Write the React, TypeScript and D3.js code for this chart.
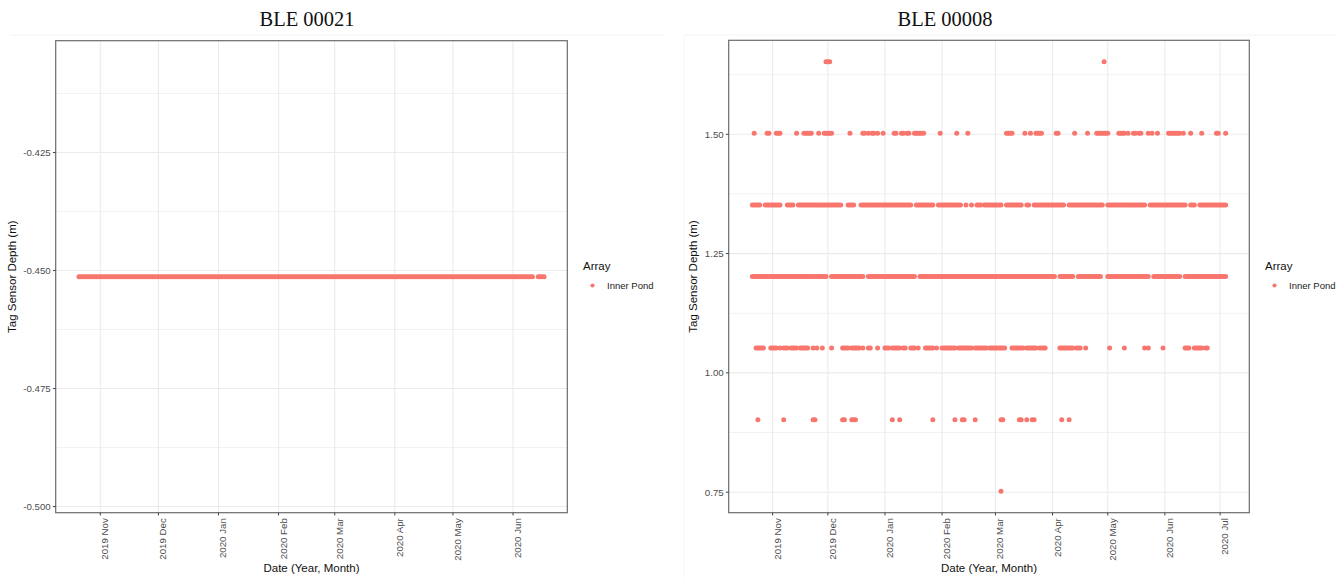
import * as d3 from "d3";

// day numbers count from 2019-10-01 (day 0)
const dayZero = Date.UTC(2019, 9, 1);
const dayToDate = (d: number) => new Date(dayZero + d * 864e5);

const pointColor = "#F8766D";
const sans = "'Liberation Sans', Arial, sans-serif";
const serif = "'Liberation Serif', 'Times New Roman', serif";

// ---- BLE 00021 ----
const tag21Depth = -0.4513;
const tag21Days = [
  20, 21, 22, 23, 24, 25, 26, 27, 28, 29, 30, 31, 32, 33, 34, 35, 36, 37, 38, 39,
  40, 41, 42, 43, 44, 45, 46, 47, 48, 49, 50, 51, 52, 53, 54, 55, 56, 57, 58, 59,
  60, 61, 62, 63, 64, 65, 66, 67, 68, 69, 70, 71, 72, 73, 74, 75, 76, 77, 78, 79,
  80, 81, 82, 83, 84, 85, 86, 87, 88, 89, 90, 91, 92, 93, 94, 95, 96, 97, 98, 99,
  100, 101, 102, 103, 104, 105, 106, 107, 108, 109, 110, 111, 112, 113, 114, 115, 116, 117, 118, 119,
  120, 121, 122, 123, 124, 125, 126, 127, 128, 129, 130, 131, 132, 133, 134, 135, 136, 137, 138, 139,
  140, 141, 142, 143, 144, 145, 146, 147, 148, 149, 150, 151, 152, 153, 154, 155, 156, 157, 158, 159,
  160, 161, 162, 163, 164, 165, 166, 167, 168, 169, 170, 171, 172, 173, 174, 175, 176, 177, 178, 179,
  180, 181, 182, 183, 184, 185, 186, 187, 188, 189, 190, 191, 192, 193, 194, 195, 196, 197, 198, 199,
  200, 201, 202, 203, 204, 205, 206, 207, 208, 209, 210, 211, 212, 213, 214, 215, 216, 217, 218, 219,
  220, 221, 222, 223, 224, 225, 226, 227, 228, 229, 230, 231, 232, 233, 234, 235, 236, 237, 238, 239,
  240, 241, 242, 243, 244, 245, 246, 247, 248, 249, 250, 251, 252, 253, 254,
  257, 258, 259, 260,
];
const tag21YTicks = [-0.5, -0.475, -0.45, -0.425];

// ---- BLE 00008 ----
const tag08Days075 = [155];
const tag08Days090 = [
  23, 37, 53, 54, 69, 70, 74, 75, 76, 96, 100, 118, 130, 134, 135, 141, 155, 156,
  165, 166, 169, 172, 173, 188, 192,
];
const tag08Days105 = [
  22, 23, 24, 25, 26, 30, 31, 32, 33, 35, 37, 38, 39, 41, 42, 43, 44, 46, 47, 48, 49, 50,
  53, 55, 58, 63, 69, 70, 71, 72, 74, 75, 76, 77, 78, 80, 83, 84, 88, 92, 93, 94,
  96, 97, 98, 99, 100, 102, 103, 106, 107, 108, 110, 114, 115, 116, 117, 118, 120,
  123, 124, 125, 126, 127, 128, 129, 130, 132, 133, 134, 135, 136, 137, 138, 139,
  141, 142, 143, 144, 145, 146, 147, 149, 150, 151, 152, 153, 154, 155, 156, 157,
  161, 162, 163, 164, 165, 166, 167, 169, 170, 171, 172, 173, 174, 176, 177, 178, 179,
  187, 188, 189, 190, 191, 192, 193, 194, 196, 197, 198, 201, 214, 222, 233, 235, 243,
  255, 256, 257, 260, 261, 262, 263, 264, 266, 267,
];
const tag08Days120 = [
  20, 21, 22, 23, 24, 25, 26, 27, 28, 29, 30, 31, 32, 33, 34, 35, 36, 37, 38, 39,
  40, 41, 42, 43, 44, 45, 46, 47, 48, 49, 50, 51, 52, 53, 54, 55, 56, 57, 58, 59, 60,
  63, 64, 65, 66, 67, 68, 69, 70, 71, 72, 73, 74, 75, 76, 77, 78, 79, 80,
  83, 84, 85, 86, 87, 88, 89, 90, 91, 92, 93, 94, 95, 96, 97, 98, 99,
  100, 101, 102, 103, 104, 105, 106, 107, 108,
  111, 112, 113, 114, 115, 116, 117, 118, 119, 120, 121, 122, 123, 124, 125, 126, 127, 128, 129,
  130, 131, 132, 133, 134, 135, 136, 137, 138, 139, 140, 141, 142, 143, 144, 145, 146, 147, 148, 149,
  150, 151, 152, 153, 154, 155, 156, 157, 158, 159, 160, 161, 162, 163, 164, 165, 166, 167, 168, 169,
  170, 171, 172, 173, 174, 175, 176, 177, 178, 179, 180, 181, 182, 183, 184,
  187, 188, 189, 190, 191, 192, 193, 194,
  197, 198, 199, 200, 201, 202, 203, 204, 205, 206, 207, 208, 209,
  213, 214, 215, 216, 217, 218, 219, 220, 221, 222, 223, 224, 225, 226, 227, 228, 229,
  230, 231, 232, 233, 234, 235,
  238, 239, 240, 241, 242, 243, 244, 245, 246, 247, 248, 249, 250, 251, 252,
  255, 256, 257, 258, 259, 260, 261, 262, 263, 264, 265, 266, 267, 268, 269,
  270, 271, 272, 273, 274, 275, 276, 277,
];
const tag08Days135 = [
  20, 21, 22, 23, 24, 27, 28, 29, 30, 31, 32, 33, 34, 35, 39, 40, 41, 42,
  45, 46, 47, 48, 49, 50, 51, 52, 53, 54, 55, 56, 57, 58, 59, 60, 61, 62, 63, 64, 65, 66, 67, 68,
  72, 73, 74, 75,
  79, 80, 81, 82, 83, 84, 85, 86, 87, 88, 89, 90, 91, 92, 93, 94, 95, 96, 97, 98, 99,
  100, 101, 102, 103, 104, 105, 106,
  109, 110, 111, 112, 113, 114, 115, 116, 117, 118,
  121, 122, 123, 124, 125, 126, 127, 128, 129, 130, 131, 132, 133,
  136, 139, 142, 143, 144, 146, 147, 148, 149, 150, 151, 152, 153, 154, 155,
  158, 159, 160, 161, 162, 163, 164, 165, 166, 169, 170,
  173, 174, 175, 176, 177, 178, 179, 180, 181, 182, 183, 184, 185, 186, 187, 188, 189,
  192, 193, 194, 195, 196, 197, 198, 199, 200, 201, 202, 203, 204, 205, 206, 207, 208, 209, 210,
  213, 214, 215, 216, 217, 218, 219, 220, 221, 222, 223, 224, 225, 226, 227, 228, 229,
  230, 231, 232, 233,
  236, 237, 238, 239, 240, 241, 242, 243, 244, 245, 246, 247, 248, 249, 250, 251, 252, 253, 254, 255,
  258, 259, 260,
  263, 264, 265, 266, 267, 268, 269, 270, 271, 272, 273, 274, 275, 276, 277,
];
const tag08Days150 = [
  21, 28, 29, 33, 34, 35, 44, 48, 49, 50, 51, 52, 56, 59, 60, 61, 62, 63, 73,
  80, 81, 83, 85, 86, 88, 91, 97, 98, 101, 102, 104, 105, 108, 109, 110, 111, 112, 113,
  122, 131, 137, 158, 159, 160, 161, 168, 171, 174, 175, 176, 177, 185, 186, 195, 202,
  207, 208, 209, 210, 211, 212, 213, 219, 220, 221, 222, 224, 227, 228, 230, 231,
  235, 237, 240, 246, 247, 248, 249, 250, 251, 252, 254, 258, 264, 272, 273, 277,
];
const tag08Days165 = [60, 61, 62, 211];
const tag08YTicks = [0.75, 1.0, 1.25, 1.5];

interface Row {
  depth: number;
  days: number[];
}

interface Box {
  left: number;
  right: number;
  top: number;
  bottom: number;
}

function Panel({
  title,
  titleX,
  box,
  rows,
  yTicks,
  yDigits,
  yTitleX,
  legendX,
}: {
  title: string;
  titleX: number;
  box: Box;
  rows: Row[];
  yTicks: number[];
  yDigits: number;
  yTitleX: number;
  legendX: number;
}) {
  const allDays = rows.flatMap((r) => r.days);
  const [d0, d1] = d3.extent(allDays) as [number, number];
  const dPad = (d1 - d0) * 0.05;
  const x = d3
    .scaleUtc()
    .domain([dayToDate(d0 - dPad), dayToDate(d1 + dPad)])
    .range([box.left, box.right]);

  const [v0, v1] = d3.extent(rows.map((r) => r.depth)) as [number, number];
  const vPad = v1 === v0 ? 0.05 : (v1 - v0) * 0.05;
  const y = d3
    .scaleLinear()
    .domain([v0 - vPad, v1 + vPad])
    .range([box.bottom, box.top]);

  const months = d3.utcMonth.range(x.domain()[0], x.domain()[1]);
  const fmtMonth = d3.utcFormat("%Y %b");

  const step = yTicks[1] - yTicks[0];
  const [yLo, yHi] = y.domain();
  const minor = [yTicks[0] - step / 2, ...yTicks.map((t) => t + step / 2)].filter(
    (m) => m > yLo && m < yHi
  );

  const cx = (box.left + box.right) / 2;
  const cy = (box.top + box.bottom) / 2;

  return (
    <g>
      <text x={titleX} y={26} textAnchor="middle" fontFamily={serif} fontSize={20.5} fill="#111">
        {title}
      </text>

      {minor.map((m) => (
        <line key={`mi${m}`} x1={box.left} x2={box.right} y1={y(m)} y2={y(m)} stroke="#f2f2f2" strokeWidth={1} />
      ))}
      {yTicks.map((t) => (
        <line key={`my${t}`} x1={box.left} x2={box.right} y1={y(t)} y2={y(t)} stroke="#ebebeb" strokeWidth={1.1} />
      ))}
      {months.map((m) => (
        <line key={`mx${m.getTime()}`} x1={x(m)} x2={x(m)} y1={box.top} y2={box.bottom} stroke="#ebebeb" strokeWidth={1.1} />
      ))}

      {rows.map((r) =>
        r.days.map((d) => (
          <circle key={`${r.depth}-${d}`} cx={x(dayToDate(d))} cy={y(r.depth)} r={2.5} fill={pointColor} />
        ))
      )}

      <rect
        x={box.left}
        y={box.top}
        width={box.right - box.left}
        height={box.bottom - box.top}
        fill="none"
        stroke="#6b6b6b"
        strokeWidth={1.2}
      />

      {yTicks.map((t) => (
        <g key={`yt${t}`}>
          <line x1={box.left - 2.8} x2={box.left} y1={y(t)} y2={y(t)} stroke="#444" strokeWidth={1} />
          <text
            x={box.left - 5}
            y={y(t)}
            dy="0.35em"
            textAnchor="end"
            fontFamily={sans}
            fontSize={9.7}
            fill="#4d4d4d"
          >
            {t.toFixed(yDigits)}
          </text>
        </g>
      ))}

      {months.map((m) => {
        const px = x(m);
        return (
          <g key={`xt${m.getTime()}`}>
            <line x1={px} x2={px} y1={box.bottom} y2={box.bottom + 2.8} stroke="#444" strokeWidth={1} />
            <text
              transform={`translate(${px + 8},${box.bottom + 5.5}) rotate(-90)`}
              textAnchor="end"
              fontFamily={sans}
              fontSize={9.7}
              fill="#4d4d4d"
            >
              {fmtMonth(m)}
            </text>
          </g>
        );
      })}

      <text x={cx} y={572} textAnchor="middle" fontFamily={sans} fontSize={11.5} fill="#111">
        Date (Year, Month)
      </text>
      <text
        transform={`translate(${yTitleX},${cy}) rotate(-90)`}
        textAnchor="middle"
        fontFamily={sans}
        fontSize={11.5}
        fill="#111"
      >
        Tag Sensor Depth (m)
      </text>

      <text x={legendX} y={270} fontFamily={sans} fontSize={11.5} fill="#111">
        Array
      </text>
      <circle cx={legendX + 9.5} cy={285.5} r={2.1} fill={pointColor} />
      <text x={legendX + 24} y={285.5} dy="0.35em" fontFamily={sans} fontSize={9.5} fill="#222">
        Inner Pond
      </text>
    </g>
  );
}

export default function App() {
  const tag21Rows: Row[] = [{ depth: tag21Depth, days: tag21Days }];
  const tag08Rows: Row[] = [
    { depth: 0.752, days: tag08Days075 },
    { depth: 0.902, days: tag08Days090 },
    { depth: 1.052, days: tag08Days105 },
    { depth: 1.202, days: tag08Days120 },
    { depth: 1.352, days: tag08Days135 },
    { depth: 1.502, days: tag08Days150 },
    { depth: 1.652, days: tag08Days165 },
  ];

  return (
    <svg
      width={1337}
      height={578}
      viewBox="0 0 1337 578"
      style={{ position: "absolute", left: 0, top: 0, background: "#fff" }}
    >
      <rect width={1337} height={578} fill="#fff" />
      <line x1={10} x2={665} y1={35} y2={35} stroke="#f3f3f3" />
      <line x1={684} x2={1337} y1={35} y2={35} stroke="#f3f3f3" />
      <line x1={684} x2={684} y1={35} y2={578} stroke="#f6f6f6" />
      <Panel
        title="BLE 00021"
        titleX={307}
        box={{ left: 55.7, right: 567.3, top: 40.7, bottom: 512.7 }}
        rows={tag21Rows}
        yTicks={tag21YTicks}
        yDigits={3}
        yTitleX={16}
        legendX={583}
      />
      <Panel
        title="BLE 00008"
        titleX={945}
        box={{ left: 728.7, right: 1249.3, top: 40.3, bottom: 512.7 }}
        rows={tag08Rows}
        yTicks={tag08YTicks}
        yDigits={2}
        yTitleX={697}
        legendX={1265}
      />
    </svg>
  );
}
